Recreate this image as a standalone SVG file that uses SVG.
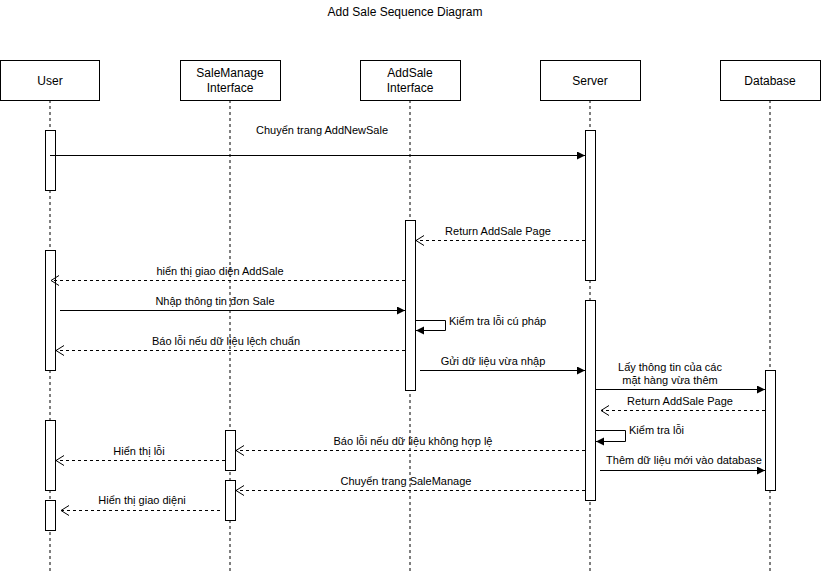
<svg xmlns="http://www.w3.org/2000/svg" width="821" height="571" viewBox="0 0 821 571">
<style>
text{font-family:"Liberation Sans",Arial,sans-serif;fill:#000}
.hd{font-size:12px;text-anchor:middle}
.lb{font-size:11px;text-anchor:middle}
.ls{font-size:11px;text-anchor:start}
.box{fill:#fff;stroke:#000;stroke-width:1}
.life{stroke:#000;stroke-width:1;stroke-dasharray:3 3;fill:none}
.act{fill:#fff;stroke:#000;stroke-width:1}
.sync{stroke:#000;stroke-width:1;fill:none;marker-end:url(#block)}
.ret{stroke:#000;stroke-width:1;fill:none;stroke-dasharray:3 3;marker-end:url(#open)}
</style>
<defs>
<marker id="block" markerUnits="userSpaceOnUse" markerWidth="10" markerHeight="10" refX="8" refY="4" orient="auto">
<path d="M0,0 L8,4 L0,8 Z" fill="#000"/>
</marker>
<marker id="open" markerUnits="userSpaceOnUse" markerWidth="10" markerHeight="12" refX="8" refY="5" orient="auto">
<path d="M0,0 L8,5 L0,10" fill="none" stroke="#000" stroke-width="1"/>
</marker>
</defs>
<rect width="821" height="571" fill="#fff"/>
<text class="hd" x="405" y="16">Add Sale Sequence Diagram</text>

<g id="lifelines">
<line class="life" x1="50" y1="100" x2="50" y2="571"/>
<line class="life" x1="230" y1="100" x2="230" y2="571"/>
<line class="life" x1="410" y1="100" x2="410" y2="571"/>
<line class="life" x1="590" y1="100" x2="590" y2="571"/>
<line class="life" x1="770" y1="100" x2="770" y2="571"/>
</g>

<g id="user">
<rect class="box" x="0.5" y="60.5" width="99" height="40"/>
<text class="hd" x="50" y="85">User</text>
</g>
<g id="salemanage">
<rect class="box" x="180.5" y="60.5" width="100" height="40"/>
<text class="hd" x="230" y="77">SaleManage</text>
<text class="hd" x="230" y="92">Interface</text>
</g>
<g id="addsale">
<rect class="box" x="360.5" y="60.5" width="100" height="40"/>
<text class="hd" x="410" y="77">AddSale</text>
<text class="hd" x="410" y="92">Interface</text>
</g>
<g id="server">
<rect class="box" x="540.5" y="60.5" width="100" height="40"/>
<text class="hd" x="590" y="85">Server</text>
</g>
<g id="database">
<rect class="box" x="720.5" y="60.5" width="100" height="40"/>
<text class="hd" x="770" y="85">Database</text>
</g>

<g id="activations">
<rect class="act" x="45.5" y="130.5" width="10" height="60"/>
<rect class="act" x="585.5" y="130.5" width="10" height="150"/>
<rect class="act" x="405.5" y="220.5" width="10" height="170"/>
<rect class="act" x="45.5" y="250.5" width="10" height="120"/>
<rect class="act" x="585.5" y="300.5" width="10" height="200"/>
<rect class="act" x="765.5" y="370.5" width="10" height="120"/>
<rect class="act" x="45.5" y="420.5" width="10" height="70"/>
<rect class="act" x="225.5" y="430.5" width="10" height="40"/>
<rect class="act" x="225.5" y="480.5" width="10" height="40"/>
<rect class="act" x="45.5" y="500.5" width="10" height="30"/>
</g>

<g id="connectors">
<line class="sync" x1="50" y1="155.5" x2="585" y2="155.5"/>
<line class="ret" x1="585" y1="240.5" x2="416" y2="240.5"/>
<line class="ret" x1="405" y1="280.5" x2="51" y2="280.5"/>
<line class="sync" x1="60" y1="310.5" x2="405" y2="310.5"/>
<path class="sync" d="M415,320.5 H445.5 V330.5 H416"/>
<line class="ret" x1="405" y1="350.5" x2="56" y2="350.5"/>
<line class="sync" x1="420" y1="370.5" x2="585" y2="370.5"/>
<line class="sync" x1="595" y1="389.5" x2="765" y2="389.5"/>
<line class="ret" x1="765" y1="410.5" x2="601" y2="410.5"/>
<path class="sync" d="M595,430.5 H625.5 V441.5 H596"/>
<line class="ret" x1="585" y1="450.5" x2="236" y2="450.5"/>
<line class="ret" x1="225" y1="460.5" x2="56" y2="460.5"/>
<line class="sync" x1="600" y1="470.5" x2="765" y2="470.5"/>
<line class="ret" x1="585" y1="490.5" x2="236" y2="490.5"/>
<line class="ret" x1="220" y1="510.5" x2="61" y2="510.5"/>
</g>

<g id="labels">
<text class="lb" x="322" y="134">Chuyển trang AddNewSale</text>
<text class="lb" x="498" y="235">Return AddSale Page</text>
<text class="lb" x="220" y="275">hiển thị giao diện AddSale</text>
<text class="lb" x="215" y="305">Nhập thông tin đơn Sale</text>
<text class="ls" x="449" y="325">Kiểm tra lỗi cú pháp</text>
<text class="lb" x="226" y="345">Báo lỗi nếu dữ liệu lệch chuẩn</text>
<text class="lb" x="493" y="365">Gửi dữ liệu vừa nhập</text>
<text class="lb" x="670" y="371">Lấy thông tin của các</text>
<text class="lb" x="670" y="384">mặt hàng vừa thêm</text>
<text class="lb" x="680" y="405">Return AddSale Page</text>
<text class="ls" x="629" y="434">Kiểm tra lỗi</text>
<text class="lb" x="413" y="445">Báo lỗi nếu dữ liệu không hợp lệ</text>
<text class="lb" x="139" y="455">Hiển thị lỗi</text>
<text class="lb" x="684" y="464">Thêm dữ liệu mới vào database</text>
<text class="lb" x="406" y="485">Chuyển trang SaleManage</text>
<text class="lb" x="142" y="504">Hiển thị giao diệni</text>
</g>
</svg>
